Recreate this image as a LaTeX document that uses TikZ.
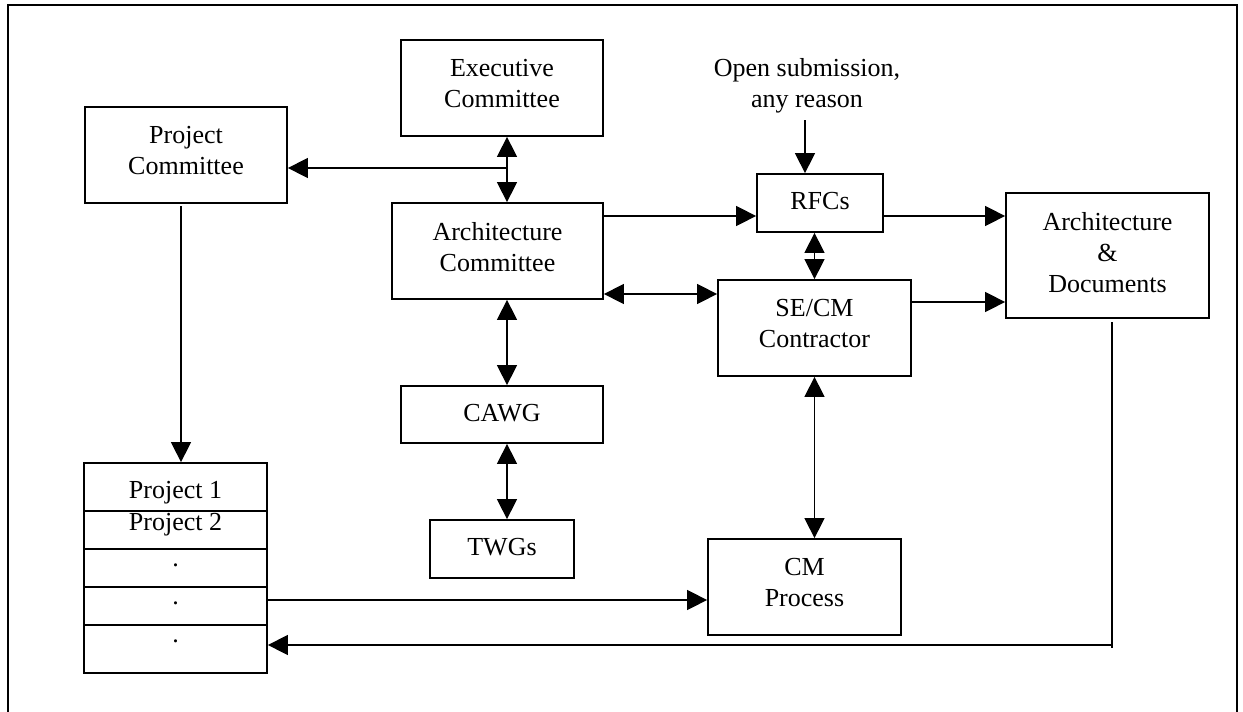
\documentclass[tikz,border=0pt]{standalone}
\usepackage{fontspec}
\setmainfont{Liberation Serif}
\usetikzlibrary{arrows.meta,calc}

\tikzset{
  box/.style={draw, line width=1.8pt, inner sep=0pt, align=center,
    font=\fontsize{26}{31}\selectfont, text depth=9pt},
  onebox/.style={box, text depth=4pt},
  lbl/.style={inner sep=0pt, align=center, font=\fontsize{26}{31}\selectfont},
  conn/.style={line width=1.5pt},
  arr/.style={conn, -{Triangle[length=20pt,width=20pt]}},
  dbl/.style={conn, {Triangle[length=20pt,width=20pt]}-{Triangle[length=20pt,width=20pt]}},
}

\begin{document}
\begin{tikzpicture}[x=1pt,y=-1pt]
\useasboundingbox (0,0) rectangle (1243,712);

% outer frame (runs off the bottom of the page)
\draw[line width=1.6pt] (8,712) -- (8,5) -- (1237,5) -- (1237,712);

% committees and groups
\node[box, minimum width=202pt, minimum height=96pt] (pc)   at (186,155)   {Project\\Committee};
\node[box, minimum width=202pt, minimum height=96pt] (exec) at (502,88)    {Executive\\Committee};
\node[box, minimum width=211pt, minimum height=96pt] (arch) at (497.5,251) {Architecture\\Committee};
\node[onebox, minimum width=202pt, minimum height=57pt] (cawg) at (502,414.5) {CAWG};
\node[onebox, minimum width=144pt, minimum height=58pt] (twg)  at (502,549)   {TWGs};

% change handling
\node[lbl] (open) at (807,86) {Open submission,\\any reason};
\node[onebox, minimum width=126pt, minimum height=58pt] (rfc)  at (820,203)    {RFCs};
\node[box, minimum width=193pt, minimum height=96pt] (secm) at (814.5,328)  {SE/CM\\Contractor};
\node[box, minimum width=193pt, minimum height=96pt] (cmp)  at (804.5,587)  {CM\\Process};
\node[box, text depth=6pt, minimum width=203pt, minimum height=125pt] (ad)  at (1107.5,255.5) {Architecture\\\&\\Documents};

% project list
\node[box, minimum width=183pt, minimum height=48pt] (r1) at (175.5,487) {};
\node[box, minimum width=183pt, minimum height=38pt] (r2) at (175.5,530) {};
\node[box, minimum width=183pt, minimum height=38pt] (r3) at (175.5,568) {};
\node[box, minimum width=183pt, minimum height=38pt] (r4) at (175.5,606) {};
\node[box, minimum width=183pt, minimum height=48pt] (r5) at (175.5,649) {};
\node[lbl, anchor=base] (t1) at (175.5,498) {Project 1};
\node[lbl, anchor=base] (t2) at (175.5,530) {Project 2};
\node[lbl, anchor=base] (d1) at (175.5,566) {.};
\node[lbl, anchor=base] (d2) at (175.5,604) {.};
\node[lbl, anchor=base] (d3) at (175.5,642) {.};

% routing points
\coordinate (jn)   at (507,168);
\coordinate (pcx)  at (181,206);
\coordinate (yrfc) at (0,216);
\coordinate (yse)  at (0,294);
\coordinate (yad)  at (0,302);
\coordinate (ycm)  at (0,600);
\coordinate (rt)   at (1112,322);
\coordinate (rb)   at (1112,645);
\coordinate (ox)   at (805,120);

% connectors
\draw[dbl] (exec.south -| jn) -- (arch.north -| jn);
\draw[arr] (jn) -- (pc.east |- jn);
\draw[dbl] (arch.south -| jn) -- (cawg.north -| jn);
\draw[dbl] (cawg.south -| jn) -- (twg.north -| jn);
\draw[arr] (pcx) -- (r1.north -| pcx);

\draw[arr] (ox) -- (rfc.north -| ox);
\draw[arr] (arch.east |- yrfc) -- (rfc.west |- yrfc);
\draw[arr] (rfc.east |- yrfc) -- (ad.west |- yrfc);
\draw[dbl] (arch.east |- yse) -- (secm.west |- yse);
\draw[dbl] (rfc.south -| secm.north) -- (secm.north);
\draw[arr] (secm.east |- yad) -- (ad.west |- yad);
\draw[dbl] (secm.south) -- (secm.south |- cmp.north);

\draw[arr] (r4.east |- ycm) -- (cmp.west |- ycm);
\draw[conn] (rt) -- ($(rb)+(0,3)$);
\draw[arr] (rb) -- (r5.east |- rb);
\end{tikzpicture}
\end{document}
